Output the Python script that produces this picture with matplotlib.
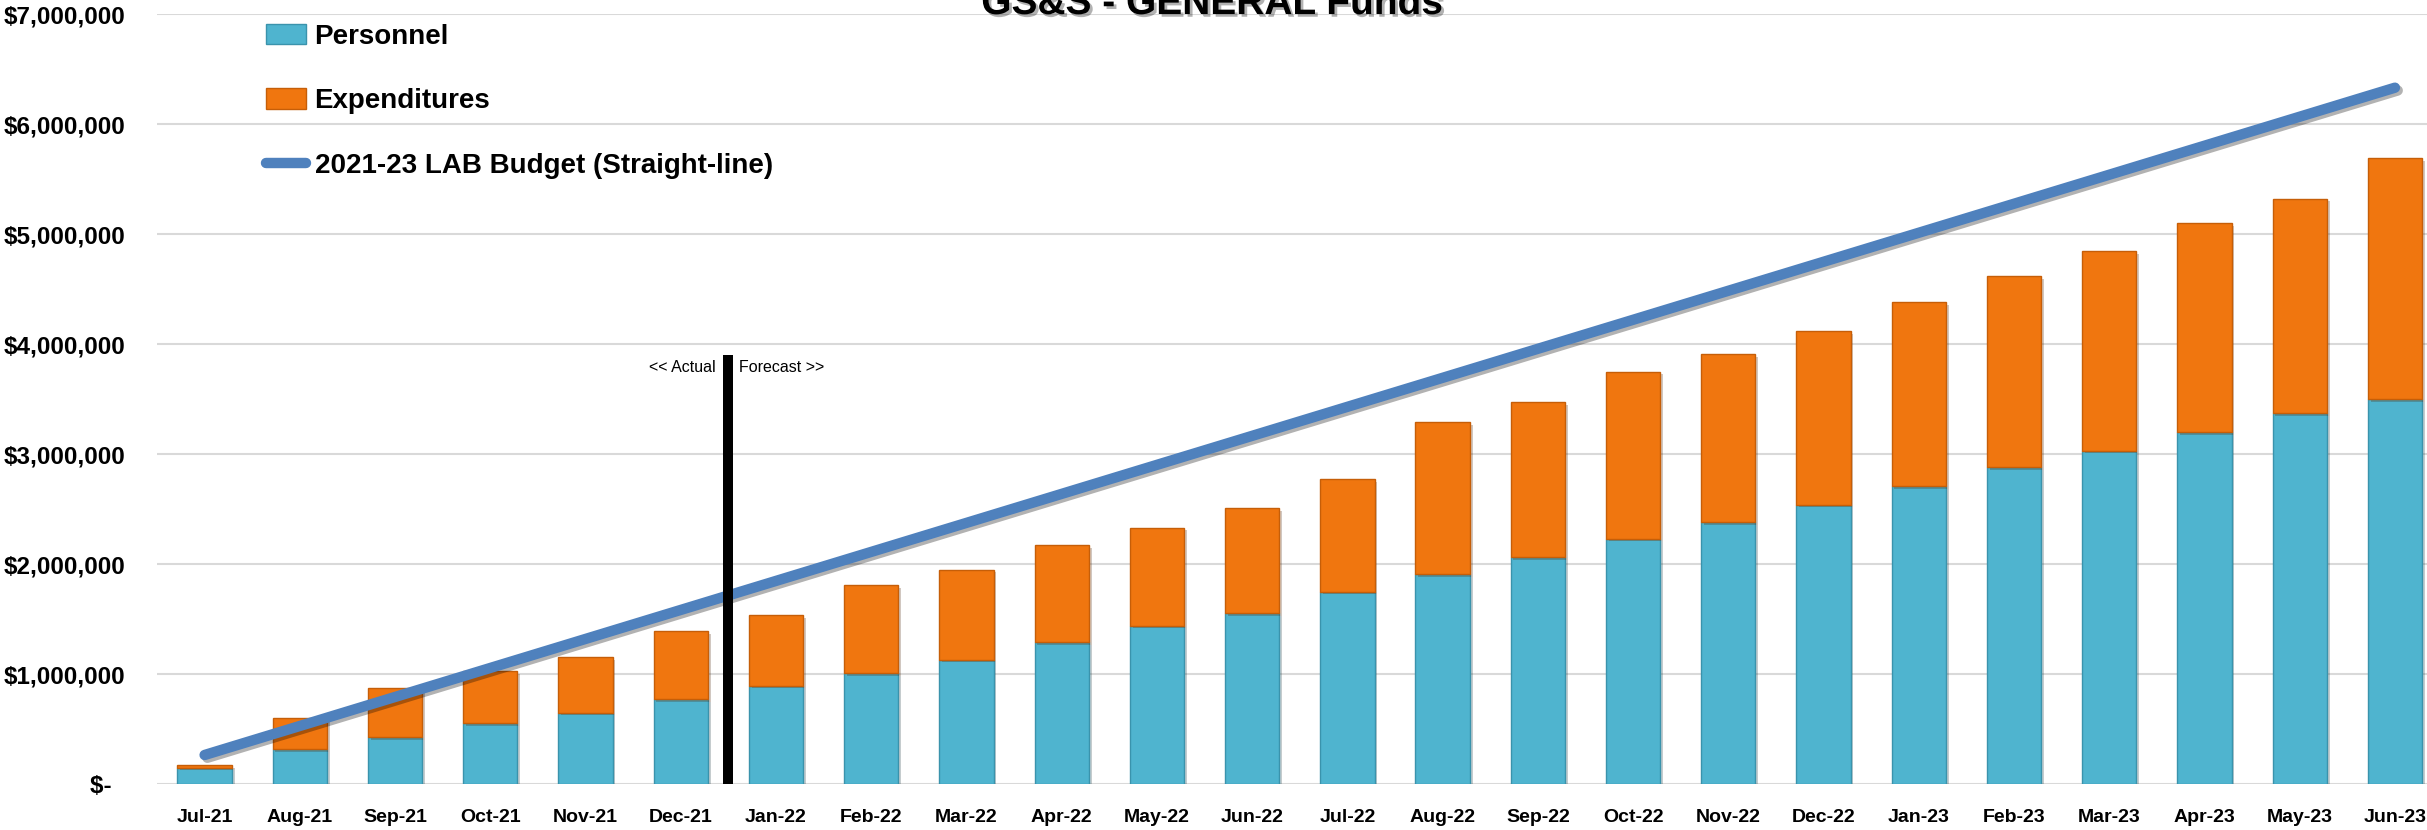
import matplotlib
matplotlib.use("Agg")
import matplotlib.pyplot as plt
import matplotlib.patheffects as pe
from matplotlib.ticker import FuncFormatter, MultipleLocator
from matplotlib.patches import Patch
from matplotlib.lines import Line2D

months = ["Jul-21", "Aug-21", "Sep-21", "Oct-21", "Nov-21", "Dec-21",
          "Jan-22", "Feb-22", "Mar-22", "Apr-22", "May-22", "Jun-22",
          "Jul-22", "Aug-22", "Sep-22", "Oct-22", "Nov-22", "Dec-22",
          "Jan-23", "Feb-23", "Mar-23", "Apr-23", "May-23", "Jun-23"]

personnel = [150000, 320000, 425000, 553000, 650000, 773000,
             894000, 1006000, 1130000, 1290000, 1440000, 1555000,
             1750000, 1910000, 2060000, 2230000, 2380000, 2540000,
             2710000, 2880000, 3030000, 3200000, 3370000, 3500000]

expenditures = [23000, 278000, 445000, 474000, 501000, 620000,
                641000, 804000, 820000, 880000, 890000, 955000,
                1020000, 1380000, 1410000, 1520000, 1530000, 1580000,
                1670000, 1738000, 1815000, 1898000, 1951000, 2187000]

budget = [263750, 527500, 791250, 1055000, 1318750, 1582500,
          1846250, 2110000, 2373750, 2637500, 2901250, 3165000,
          3428750, 3692500, 3956250, 4220000, 4483750, 4747500,
          5011250, 5275000, 5538750, 5802500, 6066250, 6330000]

title = "GS&S - GENERAL Funds"
divider_top = 3900000
divider_label_y = 3790000

FONT = ["Liberation Sans", "DejaVu Sans"]
plt.rcParams["font.family"] = FONT

W, H = 2427, 830
fig = plt.figure(figsize=(W / 100, H / 100), dpi=100)
ax = fig.add_axes([157 / W, (H - 784) / H, 1 - 157 / W, (784 - 14) / H])

x = list(range(len(months)))
c_pers = "#4FB4CF"
c_exp = "#F0760F"
c_line = "#4F81BD"

shadow = [pe.SimplePatchShadow(offset=(2, -2), alpha=0.25), pe.Normal()]
b1 = ax.bar(x, personnel, width=0.57, color=c_pers, edgecolor="#3A93AC",
            linewidth=1.0, zorder=3)
b2 = ax.bar(x, expenditures, width=0.57, bottom=personnel, color=c_exp,
            edgecolor="#C65E08", linewidth=1.0, zorder=3)
for p in list(b1) + list(b2):
    p.set_path_effects(shadow)

ax.plot(x, budget, color=c_line, linewidth=7.5, solid_capstyle="round",
        zorder=5,
        path_effects=[pe.SimpleLineShadow(offset=(2, -2), alpha=0.3),
                      pe.Normal()])

ax.vlines(5.5, 0, divider_top, color="black", linewidth=7.2, zorder=6)
ax.annotate("<< Actual", (5.5, divider_label_y), xytext=(-9, 0),
            textcoords="offset points", ha="right", va="center",
            fontsize=11.5, family=FONT)
ax.annotate("Forecast >>", (5.5, divider_label_y), xytext=(8, 0),
            textcoords="offset points", ha="left", va="center",
            fontsize=11.5, family=FONT)

ax.set_ylim(0, 7000000)
ax.set_xlim(-0.5, 23 + (2427 - 2395) / 95.0)
ax.yaxis.set_major_locator(MultipleLocator(1000000))


def fmt(v, pos):
    if abs(v) < 1:
        return "$-  "
    return "${:,.0f}".format(v)


ax.yaxis.set_major_formatter(FuncFormatter(fmt))
ax.set_xticks(x)
ax.set_xticklabels(months)
for lab in ax.get_xticklabels():
    lab.set_fontweight("bold")
    lab.set_fontsize(14)
for lab in ax.get_yticklabels():
    lab.set_fontweight("bold")
    lab.set_fontsize(17.5)
ax.tick_params(axis="both", length=0)
ax.tick_params(axis="y", pad=23)
ax.tick_params(axis="x", pad=18)
ax.grid(axis="y", color="#D9D9D9", linewidth=1.5, zorder=0)
ax.set_axisbelow(True)
for s in ax.spines.values():
    s.set_visible(False)

fig.text(1212 / W, 1 - 14 / H, title, ha="center", va="baseline",
         fontsize=28, fontweight="bold",
         path_effects=[pe.withSimplePatchShadow(offset=(2, -2), alpha=0.3)])

handles = [Patch(facecolor=c_pers, edgecolor="#3A93AC"),
           Patch(facecolor=c_exp, edgecolor="#C65E08"),
           Line2D([0], [0], color=c_line, linewidth=7.5, solid_capstyle="round")]
labels = ["Personnel", "Expenditures", "2021-23 LAB Budget (Straight-line)"]
leg = fig.legend(handles, labels, loc="upper left",
                 bbox_to_anchor=(266 / W, 1 - 24 / H),
                 frameon=False, borderpad=0, borderaxespad=0,
                 handlelength=1.45, handleheight=0.75, handletextpad=0.3,
                 labelspacing=1.38,
                 prop={"family": FONT, "weight": "bold", "size": 20})

fig.savefig("out.png", dpi=100)
